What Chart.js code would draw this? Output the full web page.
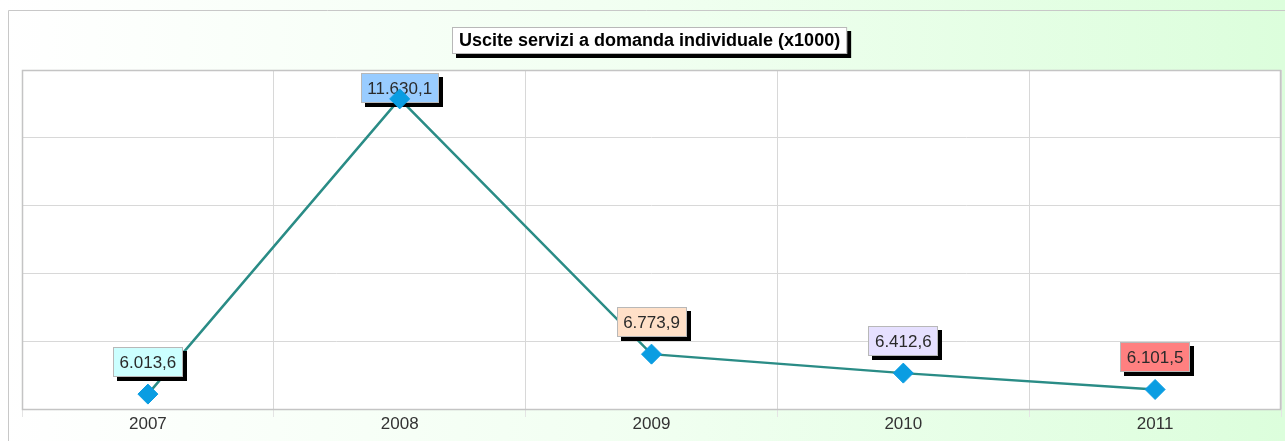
<!DOCTYPE html>
<html>
<head>
<meta charset="utf-8">
<title>Uscite servizi a domanda individuale</title>
<script src="https://cdn.jsdelivr.net/npm/chart.js@4/dist/chart.umd.min.js"></script>
<style>
  html, body { margin: 0; padding: 0; background: #fff; }
  #wrap { width: 1285px; height: 441px; }
</style>
</head>
<body>
<div id="wrap"><canvas id="chart" width="1285" height="441"></canvas></div>
<script>
// ─────────────────────────────────────────────
// DATA
// ─────────────────────────────────────────────
const titleText = "Uscite servizi a domanda individuale (x1000)";
const years = ["2007", "2008", "2009", "2010", "2011"];
const uscite = [6013.6, 11630.1, 6773.9, 6412.6, 6101.5];
const labelColors = ["#ccffff", "#99ccff", "#ffe0c8", "#e6e0ff", "#ff8080"];

const FONT = "'Liberation Sans', Arial, sans-serif";

// italian number format: 11.630,1
function fmt(v) {
  const parts = v.toFixed(1).split(".");
  const int = parts[0].replace(/\B(?=(\d{3})+(?!\d))/g, ".");
  return int + "," + parts[1];
}

function boxWithShadow(ctx, x, y, w, h, fill) {
  ctx.fillStyle = "#000";
  ctx.fillRect(x + 4, y + 4, w, h);
  ctx.fillStyle = fill;
  ctx.fillRect(x, y, w, h);
  ctx.strokeStyle = "#b8b8b8";
  ctx.lineWidth = 1;
  ctx.strokeRect(x + 0.5, y + 0.5, w - 1, h - 1);
}

// ─────────────────────────────────────────────
// BACKGROUND + PLOT FRAME
// ─────────────────────────────────────────────
const backgroundPlugin = {
  id: "bg",
  beforeDraw(chart) {
    const ctx = chart.ctx;
    const a = chart.chartArea;
    ctx.save();
    const g = ctx.createLinearGradient(0, 0, chart.width, 0);
    g.addColorStop(0, "#ffffff");
    g.addColorStop(0.5, "#f1fff1");
    g.addColorStop(1, "#dcfedc");
    ctx.fillStyle = g;
    ctx.fillRect(0, 0, chart.width, chart.height);
    // outer frame
    ctx.strokeStyle = "#c8c8c8";
    ctx.lineWidth = 1;
    ctx.beginPath();
    ctx.moveTo(8.5, chart.height);
    ctx.lineTo(8.5, 10.5);
    ctx.lineTo(chart.width, 10.5);
    ctx.stroke();
    // plot area
    ctx.fillStyle = "#ffffff";
    ctx.fillRect(a.left, a.top, a.width, a.height);
    ctx.restore();
  },
  beforeDatasetsDraw(chart) {
    const ctx = chart.ctx;
    const a = chart.chartArea;
    ctx.save();
    ctx.strokeStyle = "#c4c4c4";
    ctx.lineWidth = 1.5;
    ctx.strokeRect(a.left + 0.5, a.top + 0.5, a.width - 1, a.height);
    ctx.restore();
  },
  afterDraw(chart) {
    // title box
    const ctx = chart.ctx;
    ctx.save();
    ctx.font = "bold 18px " + FONT;
    const tw = ctx.measureText(titleText).width;
    const w = tw + 14, h = 27;
    const cx = 650;
    const x = Math.round(cx - w / 2), y = 27;
    boxWithShadow(ctx, x, y, w, h, "#ffffff");
    ctx.fillStyle = "#000";
    ctx.textAlign = "center";
    ctx.textBaseline = "middle";
    ctx.fillText(titleText, x + w / 2, y + h / 2 + 1);
    ctx.restore();
  }
};

// ─────────────────────────────────────────────
// VALUE LABELS (after the line, before the points)
// ─────────────────────────────────────────────
const labelPlugin = {
  id: "valueLabels",
  afterDatasetDraw(chart, args) {
    if (args.index !== 1) return;
    const ctx = chart.ctx;
    const a = chart.chartArea;
    const xs = chart.scales.x, ys = chart.scales.y;
    ctx.save();
    ctx.font = "17px " + FONT;
    ctx.textAlign = "center";
    ctx.textBaseline = "middle";
    uscite.forEach((v, i) => {
      const px = xs.getPixelForValue(i);
      const py = ys.getPixelForValue(v);
      const txt = fmt(v);
      const w = Math.round(ctx.measureText(txt).width + 13);
      const h = 30;
      let y = Math.round(py - 17 - h);
      if (y < a.top + 3) y = a.top + 3;
      const x = Math.round(px - w / 2);
      boxWithShadow(ctx, x, y, w, h, labelColors[i]);
      ctx.fillStyle = "#2a2a2a";
      ctx.fillText(txt, px, y + h / 2 + 1);
    });
    ctx.restore();
  }
};

// ─────────────────────────────────────────────
// CHART
// ─────────────────────────────────────────────
const ctx = document.getElementById("chart").getContext("2d");

new Chart(ctx, {
  type: "line",
  data: {
    labels: years,
    datasets: [
      {
        label: "punti",
        data: uscite,
        showLine: false,
        order: 0,
        pointStyle: "rectRot",
        pointRadius: 10,
        pointHoverRadius: 10,
        pointBackgroundColor: "#0a9de2",
        pointBorderColor: "#0a9de2",
        pointBorderWidth: 1
      },
      {
        label: "linea",
        data: uscite,
        order: 1,
        borderColor: "#2a8c86",
        borderWidth: 2.5,
        pointRadius: 0,
        tension: 0,
        fill: false
      }
    ]
  },
  options: {
    responsive: false,
    animation: false,
    layout: {
      autoPadding: false,
      padding: { top: 70, left: 22, right: 4, bottom: 0 }
    },
    plugins: {
      legend: { display: false },
      title: { display: false },
      tooltip: { enabled: false }
    },
    scales: {
      x: {
        offset: true,
        grid: {
          offset: true,
          color: "#d8d8d8",
          lineWidth: 1,
          drawTicks: true,
          tickLength: 8,
          tickColor: "#e4e4e4"
        },
        border: { display: false },
        ticks: {
          color: "#333",
          font: { family: FONT, size: 17 },
          padding: -3
        },
        afterFit(s) {
          s.height = 32;
          s.paddingLeft = 0;
          s.paddingRight = 0;
        }
      },
      y: {
        min: 5730,
        max: 12180,
        ticks: { display: false, stepSize: 1290 },
        grid: { color: "#d8d8d8", drawTicks: false },
        border: { display: false },
        afterFit(s) {
          s.width = 0;
          s.paddingTop = 0;
          s.paddingBottom = 0;
        }
      }
    }
  },
  plugins: [backgroundPlugin, labelPlugin]
});
</script>
</body>
</html>
